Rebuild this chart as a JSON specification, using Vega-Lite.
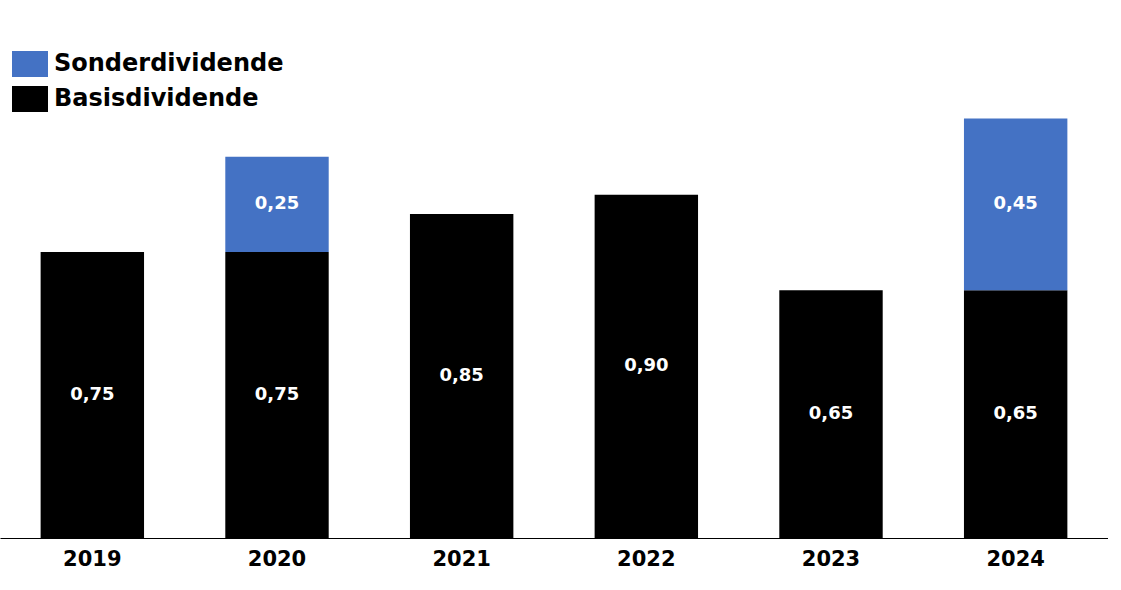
{
  "$schema": "https://vega.github.io/schema/vega-lite/v6.json",
  "width": 1108,
  "height": 538,
  "autosize": {"type": "pad"},
  "padding": 0,
  "background": "white",
  "data": {
    "values": [
      {"year": "2019", "kind": "Basisdividende", "dividende": 0.75},
      {"year": "2020", "kind": "Basisdividende", "dividende": 0.75},
      {"year": "2020", "kind": "Sonderdividende", "dividende": 0.25},
      {"year": "2021", "kind": "Basisdividende", "dividende": 0.85},
      {"year": "2022", "kind": "Basisdividende", "dividende": 0.90},
      {"year": "2023", "kind": "Basisdividende", "dividende": 0.65},
      {"year": "2024", "kind": "Basisdividende", "dividende": 0.65},
      {"year": "2024", "kind": "Sonderdividende", "dividende": 0.45}
    ]
  },
  "encoding": {
    "x": {
      "field": "year",
      "type": "nominal",
      "title": null,
      "scale": {"paddingInner": 0.44, "paddingOuter": 0.22},
      "axis": {
        "labelAngle": 0,
        "labelFontSize": 21,
        "labelFontWeight": "bold",
        "labelColor": "#000000",
        "labelPadding": 10,
        "ticks": false,
        "domainColor": "#000000",
        "domainWidth": 1
      }
    }
  },
  "layer": [
    {
      "mark": {"type": "bar"},
      "encoding": {
        "y": {
          "field": "dividende",
          "type": "quantitative",
          "stack": "zero",
          "scale": {"domain": [0, 1.411], "nice": false},
          "axis": null
        },
        "color": {
          "field": "kind",
          "type": "nominal",
          "title": null,
          "scale": {
            "domain": ["Sonderdividende", "Basisdividende"],
            "range": ["#4472C4", "#000000"]
          },
          "legend": {
            "orient": "none",
            "legendX": 12,
            "legendY": 46,
            "symbolType": "M-1,-0.722H1V0.722H-1Z",
            "symbolSize": 1296,
            "symbolStrokeWidth": 0,
            "labelFontSize": 24,
            "labelFontWeight": "bold",
            "labelColor": "#000000",
            "labelOffset": 6,
            "labelLimit": 0,
            "rowPadding": 4
          }
        },
        "order": {"field": "kind", "sort": "ascending"}
      }
    },
    {
      "transform": [
        {"stack": "dividende", "groupby": ["year"], "sort": [{"field": "kind", "order": "ascending"}], "as": ["y0", "y1"]},
        {"fold": ["y0", "y1"], "as": ["edge", "pos"]},
        {"aggregate": [{"op": "mean", "field": "pos", "as": "mid"}], "groupby": ["year", "kind", "dividende"]}
      ],
      "mark": {"type": "text", "color": "white", "fontSize": 18, "fontWeight": "bold", "baseline": "middle"},
      "encoding": {
        "y": {"field": "mid", "type": "quantitative"},
        "text": {"field": "dividende", "type": "quantitative", "format": ".2f"}
      }
    }
  ],
  "config": {
    "font": "DejaVu Sans",
    "view": {"stroke": null},
    "locale": {
      "number": {"decimal": ",", "thousands": ".", "grouping": [3], "currency": ["", " €"]}
    }
  }
}
